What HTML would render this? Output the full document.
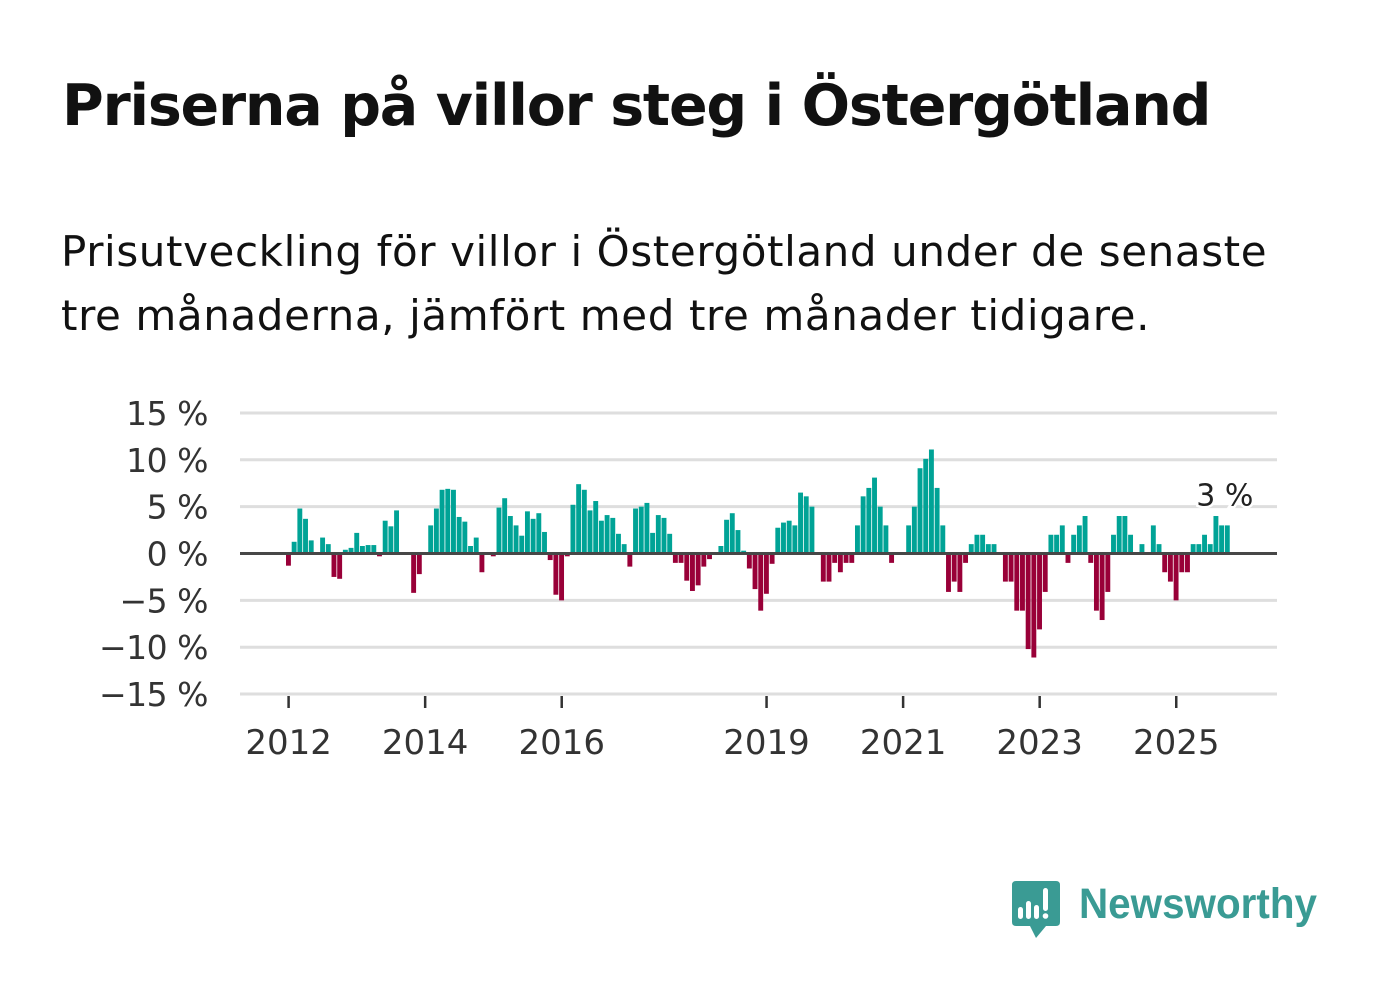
<!DOCTYPE html>
<html><head><meta charset="utf-8">
<style>
html,body{margin:0;padding:0;background:#fff;}
body{width:1382px;height:999px;position:relative;overflow:hidden;font-family:"Liberation Sans","DejaVu Sans",sans-serif;}
#title{position:absolute;left:62px;top:73px;font-size:57px;font-weight:bold;color:#111;font-family:"DejaVu Sans","Liberation Sans",sans-serif;letter-spacing:-1.2px;margin:0;white-space:nowrap;}
#subtitle{position:absolute;left:61px;top:220px;font-size:42px;line-height:64px;color:#111;font-family:"DejaVu Sans","Liberation Sans",sans-serif;letter-spacing:0.6px;width:1300px;}
svg{position:absolute;left:0;top:0;}
</style></head>
<body>
<h1 id="title">Priserna på villor steg i Östergötland</h1>
<div id="subtitle">Prisutveckling för villor i Östergötland under de senaste<br>tre månaderna, jämfört med tre månader tidigare.</div>
<svg id="chart" width="1382" height="999"></svg>
<script>
const yTicks=[15,10,5,0,-5,-10,-15];
const yTickLabels=["15 %","10 %","5 %","0 %","\u22125 %","\u221210 %","\u221215 %"];
const xTickYears=[2012,2014,2016,2019,2021,2023,2025];
const startYear=2012;
const values=[
-1.3,1.25,4.8,3.7,1.4,0,1.7,1.0,-2.5,-2.7,0.4,0.6,
2.2,0.8,0.9,0.9,-0.3,3.5,2.9,4.6,0,0,-4.2,-2.2,
0,3.0,4.8,6.8,6.9,6.8,3.9,3.4,0.8,1.7,-2.0,0,
-0.3,4.9,5.9,4.0,3.0,1.9,4.5,3.7,4.3,2.3,-0.7,-4.4,
-5.0,-0.3,5.2,7.4,6.8,4.6,5.6,3.5,4.1,3.8,2.1,1.0,
-1.4,4.8,5.0,5.4,2.2,4.1,3.8,2.1,-1.0,-1.0,-2.9,-4.0,
-3.4,-1.4,-0.6,0,0.8,3.6,4.3,2.5,0.3,-1.6,-3.8,-6.1,
-4.3,-1.1,2.75,3.3,3.5,3.0,6.5,6.1,5.0,0,-3.0,-3.0,
-1.0,-2.0,-1.0,-1.0,3.0,6.1,7.0,8.1,5.0,3.0,-1.0,0,
0,3.0,5.0,9.1,10.1,11.1,7.0,3.0,-4.1,-3.0,-4.1,-1.0,
1.0,2.0,2.0,1.0,1.0,0,-3.0,-3.0,-6.1,-6.1,-10.2,-11.1,
-8.1,-4.1,2.0,2.0,3.0,-1.0,2.0,3.0,4.0,-1.0,-6.1,-7.1,
-4.1,2.0,4.0,4.0,2.0,0,1.0,0,3.0,1.0,-2.0,-3.0,
-5.0,-2.0,-2.0,1.0,1.0,2.0,1.0,4.0,3.0,3.0
];
const lastLabel="3 %";

const NS="http://www.w3.org/2000/svg";
const svg=document.getElementById('chart');
const plotL=240,plotR=1277;
function y(v){return 553.5-v*9.37;}
function xm(i){return 286+i*5.69;}
function xYear(yr){return xm((yr-startYear)*12)+2.6;}
function mk(tag,attrs){const e=document.createElementNS(NS,tag);for(const k in attrs)e.setAttribute(k,attrs[k]);svg.appendChild(e);return e;}

yTicks.forEach((t,k)=>{
  if(t!==0){const g=mk('line',{x1:plotL,x2:plotR,y1:y(t),y2:y(t),stroke:'#dedede','stroke-width':3});
  
  }
  const tx=mk('text',{x:208,y:y(t)+12,'text-anchor':'end','font-size':33,fill:'#333','font-family':'"DejaVu Sans","Liberation Sans",sans-serif','letter-spacing':'-0.5'});
  tx.textContent=yTickLabels[k];
  
  
});
values.forEach((v,i)=>{
  if(v===0)return;
  const r=mk('rect',{x:xm(i),width:4.9,y:v>0?y(v):y(0),height:Math.abs(y(v)-y(0)),fill:v>0?'#00a396':'#990038'});
  
  
});
const zl=mk('line',{x1:plotL,x2:plotR,y1:y(0),y2:y(0),stroke:'#474747','stroke-width':3});


xTickYears.forEach(yr=>{
  const x=xYear(yr);
  const t=mk('line',{x1:x,x2:x,y1:696,y2:708,stroke:'#333','stroke-width':2.5});
  
  
  const tx=mk('text',{x:x,y:754,'text-anchor':'middle','font-size':34,fill:'#333','font-family':'"DejaVu Sans","Liberation Sans",sans-serif'});
  tx.textContent=yr;
  
  
});
const li=values.length-1;
const lb=mk('text',{x:xm(li),y:y(values[li])-20,'text-anchor':'middle','font-size':30,fill:'#222',stroke:'#fff','stroke-width':5,'paint-order':'stroke','font-family':'"DejaVu Sans","Liberation Sans",sans-serif'});
lb.textContent=lastLabel;


</script>
<svg width="1382" height="999" style="pointer-events:none">
  <path d="M1016 881 H1056 Q1060 881 1060 885 V922 Q1060 926 1056 926 H1046 L1036 938 L1030 926 H1016 Q1012 926 1012 922 V885 Q1012 881 1016 881 Z" fill="#3a9b94"/>
  <rect x="1018" y="907" width="5" height="12" rx="2.5" fill="#fff"/>
  <rect x="1026" y="901" width="5" height="18" rx="2.5" fill="#fff"/>
  <rect x="1034" y="905" width="5" height="14" rx="2.5" fill="#fff"/>
  <rect x="1043" y="888" width="5" height="23" rx="2.5" fill="#fff"/>
  <circle cx="1045.5" cy="916" r="2.8" fill="#fff"/>
  <text x="1079" y="918" font-size="43" font-weight="bold" fill="#3a9b94" font-family="'Liberation Sans','DejaVu Sans',sans-serif" textLength="238" lengthAdjust="spacingAndGlyphs">Newsworthy</text>
</svg>
</body></html>
